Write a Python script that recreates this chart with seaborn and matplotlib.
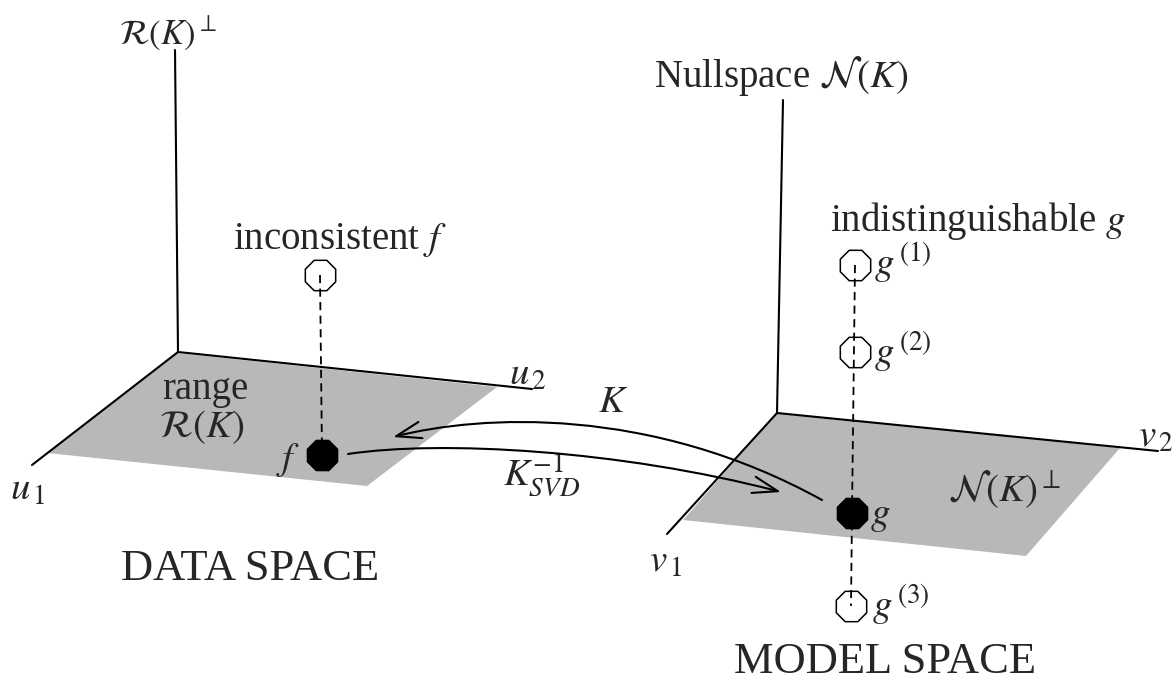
#importing packages
import matplotlib.pyplot as plt
import seaborn as sns
import numpy as np
from matplotlib.path import Path
from matplotlib.patches import FancyArrowPatch

sns.set_theme(style="white")
plt.rcParams['font.family'] = ['Liberation Serif', 'DejaVu Serif']
plt.rcParams['mathtext.fontset'] = 'stix'

#diagram coordinates in pixels (y grows downward)
#data space
dataAxisX = [[178, 175], [178, 532], [178, 32]]
dataAxisY = [[352, 50], [352, 389], [352, 465]]
dataPlaneX = [177, 497, 367, 47]
dataPlaneY = [353, 387, 486, 453]
#model space
modelAxisX = [[777, 783], [777, 1158], [777, 667]]
modelAxisY = [[413, 100], [413, 451], [413, 534]]
modelPlaneX = [777, 1120, 1026, 683]
modelPlaneY = [413, 448, 556, 520]
#points
solidX = [322, 852]
solidY = [455, 513]
openX = [320, 855, 855, 851]
openY = [275, 265, 352, 606]
dashX = [[320, 322], [855, 852, 851]]
dashY = [[275, 455], [265, 513, 606]]
#curved arrows (bezier control points)
kCurveX = [822, 650, 480, 393]
kCurveY = [500, 405, 415, 437]
kinvCurveX = [348, 440, 620, 781]
kinvCurveY = [454, 440, 450, 492]
#labels
labelText = [r'Nullspace $\mathcal{N}(K)$',
             r'inconsistent $f$', r'indistinguishable $g$', 'range',
             r'$\mathcal{R}(K)$', r'$f$', r'$K$', r'$\mathcal{N}(K)^{\perp}$']
labelX = [781, 340, 978, 205, 202, 288, 613, 1005]
labelY = [76, 240, 221, 390, 427, 460, 402, 490]
leftText = [r'$u_{\,1}$', r'$u_{\,2}$', r'$v_{\,1}$', r'$v_{\,2}$', r'$K^{-1}_{SVD}$',
            r'$g$', r'$g^{\,(1)}$', r'$g^{\,(2)}$', r'$g^{\,(3)}$']
leftX = [10, 509, 649, 1138, 503, 870, 874, 874, 872]
leftY = [490, 375, 562, 437, 475, 515, 263, 352, 605]
titleText = ['DATA SPACE', 'MODEL SPACE']
titleX = [250, 885]
titleY = [569, 662]

fig = plt.figure(figsize=(11.76, 6.8), dpi=100)
ax = fig.add_axes([0, 0, 1, 1])

#planes and axes
ax.fill(dataPlaneX, dataPlaneY, color='#b8b8b8', lw=0, zorder=1)
ax.fill(modelPlaneX, modelPlaneY, color='#b8b8b8', lw=0, zorder=1)
for xs, ys in zip(dataAxisX + modelAxisX, dataAxisY + modelAxisY):
    ax.plot(xs, ys, color='black', lw=1.5, zorder=2)

#points
sns.scatterplot(x=openX, y=openY, marker='8', s=560, color='white',
                edgecolor='black', linewidth=1.1, zorder=3, ax=ax)
sns.scatterplot(x=solidX, y=solidY, marker='8', s=550, color='black',
                edgecolor='black', linewidth=1.1, zorder=3, ax=ax)
for xs, ys in zip(dashX, dashY):
    ax.plot(xs, ys, color='black', lw=1.3, ls=(0, (4.5, 3)), zorder=4)

#arrows
codes = [Path.MOVETO, Path.CURVE4, Path.CURVE4, Path.CURVE4]
for cx, cy in [(kCurveX, kCurveY), (kinvCurveX, kinvCurveY)]:
    p = Path(list(zip(cx, cy)), codes)
    ax.add_patch(FancyArrowPatch(path=p, arrowstyle='->,head_length=1.8,head_width=0.6',
                                 mutation_scale=10, lw=1.5, color='black', zorder=4))

#text
ax.text(168, 33, r'$\mathcal{R}(K)^{\perp}$', ha='center', va='center', fontsize=25)
for t, x, y in zip(labelText, labelX, labelY):
    ax.text(x, y, t, ha='center', va='center', fontsize=28)
for t, x, y in zip(leftText, leftX, leftY):
    ax.text(x, y, t, ha='left', va='center', fontsize=28)
for t, x, y in zip(titleText, titleX, titleY):
    ax.text(x, y, t, ha='center', va='center', fontsize=32)

ax.set_xlim(0, 1176)
ax.set_ylim(680, 0)
ax.axis('off')
plt.savefig('out.png', dpi=100)
